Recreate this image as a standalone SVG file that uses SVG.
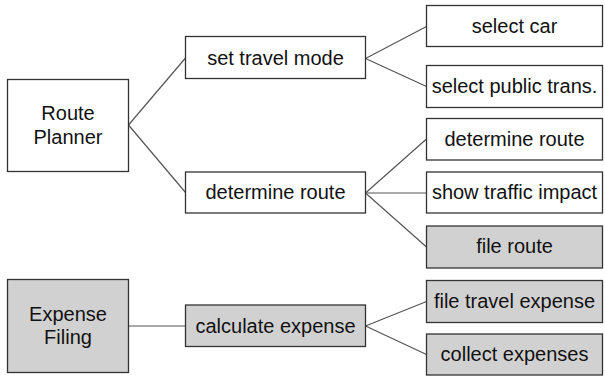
<svg xmlns="http://www.w3.org/2000/svg" width="605" height="376" viewBox="0 0 605 376">
  <style>
    .box { fill: #ffffff; stroke: #333333; stroke-width: 1.3; }
    .box.gray { fill: #d1d1d1; }
    .lbl { font-family: "Liberation Sans", Arial, sans-serif; font-size: 20px; fill: #111111; text-anchor: middle; }
    .edge { stroke: #555555; stroke-width: 1.2; fill: none; }
  </style>
  <rect width="605" height="376" fill="#ffffff"/>

  <g id="connectors">
    <line class="edge" x1="128.5" y1="125" x2="185.5" y2="58"/>
    <line class="edge" x1="128.5" y1="125" x2="185.5" y2="192.5"/>
    <line class="edge" x1="365.5" y1="58.5" x2="426.5" y2="26.5"/>
    <line class="edge" x1="365.5" y1="58.5" x2="426.5" y2="86.5"/>
    <line class="edge" x1="365.5" y1="193" x2="426.5" y2="139"/>
    <line class="edge" x1="365.5" y1="193" x2="426.5" y2="193"/>
    <line class="edge" x1="365.5" y1="193" x2="426.5" y2="247"/>
    <line class="edge" x1="128.5" y1="326" x2="185.5" y2="326"/>
    <line class="edge" x1="365.5" y1="326" x2="426.5" y2="301.5"/>
    <line class="edge" x1="365.5" y1="326" x2="426.5" y2="354.5"/>
  </g>

  <g id="route-planner">
    <rect class="box" x="7.5" y="79.5" width="121" height="92"/>
    <text class="lbl" x="68" y="119.5">Route</text>
    <text class="lbl" x="68" y="143.5">Planner</text>
  </g>
  <g id="set-travel-mode">
    <rect class="box" x="185.5" y="36.5" width="180" height="42"/>
    <text class="lbl" x="275.5" y="64.5">set travel mode</text>
  </g>
  <g id="determine-route-main">
    <rect class="box" x="185.5" y="172" width="180" height="41"/>
    <text class="lbl" x="275.5" y="199">determine route</text>
  </g>
  <g id="select-car">
    <rect class="box" x="426.5" y="5.5" width="176" height="41"/>
    <text class="lbl" x="514.5" y="32.5">select car</text>
  </g>
  <g id="select-public-trans">
    <rect class="box" x="426.5" y="65.5" width="176" height="42"/>
    <text class="lbl" x="514.5" y="93">select public trans.</text>
  </g>
  <g id="determine-route">
    <rect class="box" x="426.5" y="118.5" width="176" height="41.5"/>
    <text class="lbl" x="514.5" y="145.5">determine route</text>
  </g>
  <g id="show-traffic-impact">
    <rect class="box" x="426.5" y="172" width="176" height="41"/>
    <text class="lbl" x="514.5" y="199">show traffic impact</text>
  </g>
  <g id="file-route">
    <rect class="box gray" x="426.5" y="226" width="176" height="42"/>
    <text class="lbl" x="514.5" y="253">file route</text>
  </g>
  <g id="expense-filing">
    <rect class="box gray" x="7.5" y="279.5" width="121" height="93"/>
    <text class="lbl" x="68" y="320.5">Expense</text>
    <text class="lbl" x="68" y="344">Filing</text>
  </g>
  <g id="calculate-expense">
    <rect class="box gray" x="185.5" y="305" width="180" height="41.5"/>
    <text class="lbl" x="275.5" y="332.5">calculate expense</text>
  </g>
  <g id="file-travel-expense">
    <rect class="box gray" x="426.5" y="280.5" width="176" height="42"/>
    <text class="lbl" x="514.5" y="307.5">file travel expense</text>
  </g>
  <g id="collect-expenses">
    <rect class="box gray" x="426.5" y="334" width="176" height="41"/>
    <text class="lbl" x="514.5" y="361">collect expenses</text>
  </g>
</svg>
